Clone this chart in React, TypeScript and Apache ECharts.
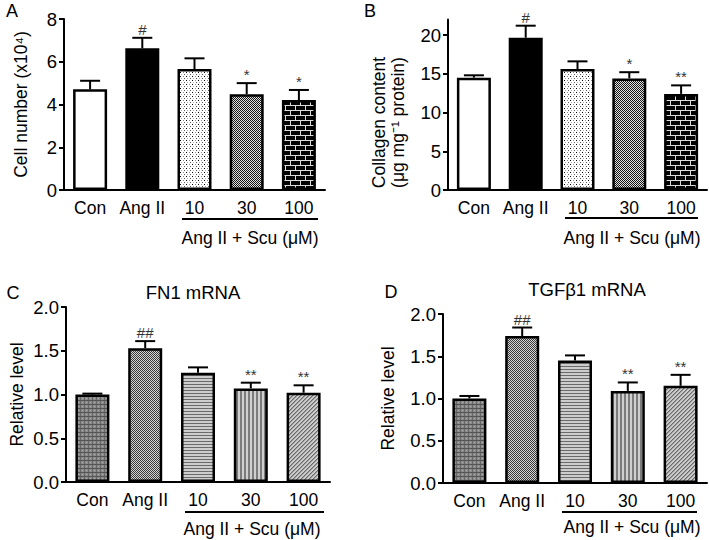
import React, { useEffect, useRef } from 'react';
import * as echarts from 'echarts';

const categories = ['Con', 'Ang II', '10', '30', '100'];

const cellNumber = [4.71, 6.63, 5.66, 4.48, 4.21];
const cellNumberSem = [0.4, 0.49, 0.5, 0.52, 0.47];
const cellNumberSig = ['', '#', '', '*', '*'];
const cellNumberTicks = [0, 2, 4, 6, 8];

const collagen = [14.5, 19.65, 15.6, 14.4, 12.4];
const collagenSem = [0.3, 1.55, 1.0, 0.8, 1.1];
const collagenSig = ['', '#', '', '*', '**'];
const collagenTicks = [0, 5, 10, 15, 20];

const fn1 = [1.0, 1.53, 1.25, 1.07, 1.02];
const fn1Sem = [0.01, 0.08, 0.06, 0.065, 0.085];
const fn1Sig = ['', '##', '', '**', '**'];

const tgfb1 = [1.0, 1.74, 1.45, 1.09, 1.15];
const tgfb1Sem = [0.03, 0.1, 0.06, 0.1, 0.13];
const tgfb1Sig = ['', '##', '', '**', '**'];

const relativeTicks = [0, 0.5, 1.0, 1.5, 2.0];

const groupLabel = 'Ang II + Scu (\u03bcM)';

const FONT = '"Liberation Sans", Arial, Helvetica, sans-serif';

function tile(w: number, h: number, fn: (x: number, y: number) => string) {
  const c = document.createElement('canvas');
  c.width = w;
  c.height = h;
  const ctx = c.getContext('2d')!;
  for (let y = 0; y < h; y++) {
    for (let x = 0; x < w; x++) {
      ctx.fillStyle = fn(x, y);
      ctx.fillRect(x, y, 1, 1);
    }
  }
  return { image: c.toDataURL(), repeat: 'repeat', imageWidth: w, imageHeight: h };
}

function makePatterns() {
  const dots = tile(6, 4, (x, y) => {
    if (y === 0 && x === 0) return '#000000';
    if (y === 0 && x === 3) return '#888888';
    if (y === 2 && x === 1) return '#aaaaaa';
    if (y === 2 && x === 4) return '#555555';
    return '#ffffff';
  });
  const checker = tile(2, 2, (x, y) => ((x + y) % 2 === 0 ? '#161616' : '#e0e0e0'));
  const brick = tile(10, 10, (x, y) => {
    if (y === 0 || y === 5) return '#dddddd';
    if (y < 5 && x === 0) return '#dddddd';
    if (y > 5 && x === 5) return '#dddddd';
    return '#000000';
  });
  const gridCon = tile(4, 4, (x, y) => {
    if (y === 0) return '#555555';
    if (x === 0) return '#666666';
    if (x === 2 && y === 2) return '#b0b0b0';
    return '#8a8a8a';
  });
  const checkAng = tile(2, 2, (x, y) => ((x + y) % 2 === 0 ? '#3a3a3a' : '#d4d4d4'));
  const hStripe = tile(1, 3, (x, y) => (y === 0 ? '#6a6a6a' : '#cdcdcd'));
  const vStripe = tile(4, 1, (x) => (x < 2 ? '#7c7c7c' : '#cfcfcf'));
  const diag = tile(4, 4, (x, y) => {
    const k = (x + y) % 4;
    if (k === 3) return '#6a6a6a';
    if (k === 0) return '#9a9a9a';
    return '#cccccc';
  });
  return {
    ab: ['#ffffff', '#000000', dots, checker, brick],
    cd: [gridCon, checkAng, hStripe, vStripe, diag],
  };
}

const lineStyle = { color: '#000', width: 2 };

export default function App() {
  const ref = useRef<HTMLDivElement>(null);
  useEffect(() => {
    if (!ref.current) return;
    const chart = echarts.init(ref.current, undefined, { renderer: 'svg' });
    const pats = makePatterns();

    const panels = [
      { grid: { left: 64, top: 19, width: 261, height: 171 }, values: cellNumber, sem: cellNumberSem, sig: cellNumberSig, ticks: cellNumberTicks, max: 8, fills: pats.ab, fmt: (v: number) => String(v), name: 'Cell number (x10\u2074)', nameGap: 34 },
      { grid: { left: 448, top: 19.5, width: 259, height: 170.5 }, values: collagen, sem: collagenSem, sig: collagenSig, ticks: collagenTicks, max: 22, fills: pats.ab, fmt: (v: number) => String(v), name: '', nameGap: 40 },
      { grid: { left: 66, top: 307, width: 264, height: 175 }, values: fn1, sem: fn1Sem, sig: fn1Sig, ticks: relativeTicks, max: 2, fills: pats.cd, fmt: (v: number) => v.toFixed(1), name: 'Relative level', nameGap: 40 },
      { grid: { left: 443, top: 314, width: 264, height: 169 }, values: tgfb1, sem: tgfb1Sem, sig: tgfb1Sig, ticks: relativeTicks, max: 2, fills: pats.cd, fmt: (v: number) => v.toFixed(1), name: 'Relative level', nameGap: 46 },
    ];

    const grids: any[] = [];
    const xAxes: any[] = [];
    const yAxes: any[] = [];
    const series: any[] = [];

    panels.forEach((p, i) => {
      grids.push({ ...p.grid, containLabel: false, outerBoundsMode: 'none' });
      xAxes.push({
        gridIndex: i,
        type: 'category',
        data: categories,
        axisLine: { lineStyle },
        axisTick: { alignWithLabel: true, length: 5, lineStyle },
        axisLabel: { color: '#000', fontSize: 17.5, fontFamily: FONT, margin: 9, interval: 0 },
        splitLine: { show: false },
      });
      yAxes.push({
        gridIndex: i,
        type: 'value',
        min: 0,
        max: p.max,
        axisLine: { show: true, lineStyle },
        axisTick: { show: true, length: 5, lineStyle, customValues: p.ticks },
        axisLabel: { color: '#000', fontSize: 18.5, fontFamily: FONT, margin: 7, customValues: p.ticks, formatter: p.fmt },
        splitLine: { show: false },
        name: p.name,
        nameLocation: 'middle',
        nameRotate: 90,
        nameGap: p.nameGap,
        nameTextStyle: { color: '#000', fontSize: 17.5, fontFamily: FONT },
      });
      series.push({
        type: 'bar',
        xAxisIndex: i,
        yAxisIndex: i,
        barWidth: 34,
        itemStyle: { borderColor: '#000', borderWidth: 2.5 },
        data: p.values.map((v, k) => ({ value: v, itemStyle: { color: p.fills[k] } })),
      });
      const sig = p.sig;
      series.push({
        type: 'custom',
        xAxisIndex: i,
        yAxisIndex: i,
        z: 5,
        data: p.values.map((v, k) => [k, v, p.sem[k]]),
        renderItem: (params: any, api: any) => {
          const k = api.value(0);
          const v = api.value(1);
          const e = api.value(2);
          const base = api.coord([k, v]);
          const top = api.coord([k, v + e]);
          const cap = 10;
          return {
            type: 'group',
            children: [
              { type: 'line', shape: { x1: base[0], y1: base[1], x2: top[0], y2: top[1] }, style: { stroke: '#000', lineWidth: 2 } },
              { type: 'line', shape: { x1: top[0] - cap, y1: top[1], x2: top[0] + cap, y2: top[1] }, style: { stroke: '#000', lineWidth: 2 } },
              { type: 'text', style: { text: sig[params.dataIndex], x: top[0], y: top[1] - 1, align: 'center', verticalAlign: 'bottom', fontSize: 15, fontFamily: FONT, fill: '#333' } },
            ],
          };
        },
      });
    });

    const txt = (text: string, x: number, y: number, fontSize: number) => ({
      type: 'text',
      x,
      y,
      style: { text, fontSize, fontFamily: FONT, fill: '#000', align: 'center', verticalAlign: 'middle' },
    });
    const hline = (x1: number, x2: number, y: number) => ({
      type: 'line',
      shape: { x1, y1: y, x2, y2: y },
      style: { stroke: '#000', lineWidth: 2 },
    });

    const graphic = [
      txt('A', 12, 11, 18),
      txt('B', 370, 11, 18),
      txt('C', 13, 293, 18),
      txt('D', 391, 292, 18),
      txt('FN1 mRNA', 193, 292.5, 18.5),
      txt('TGF\u03b21 mRNA', 587, 289, 18.5),
      hline(182, 318, 219),
      hline(565, 698, 218),
      hline(185, 324, 512),
      hline(562, 697, 512),
      txt(groupLabel, 250, 237.5, 17.5),
      txt(groupLabel, 632, 237.5, 17.5),
      txt(groupLabel, 252, 528.5, 17.5),
      txt(groupLabel, 632, 527, 17.5),
      {
        type: 'text',
        x: 388,
        y: 122.5,
        rotation: Math.PI / 2,
        style: { text: 'Collagen content\n(\u03bcg mg\u207b\u00b9 protein)', fontSize: 17.5, lineHeight: 19, fontFamily: FONT, fill: '#000', align: 'center', verticalAlign: 'middle' },
      },
    ];

    chart.setOption({
      animation: false,
      backgroundColor: '#ffffff',
      grid: grids,
      xAxis: xAxes,
      yAxis: yAxes,
      series,
      graphic,
    });
    return () => chart.dispose();
  }, []);
  return <div ref={ref} style={{ position: 'fixed', left: 0, top: 0, width: 709, height: 540 }} />;
}
